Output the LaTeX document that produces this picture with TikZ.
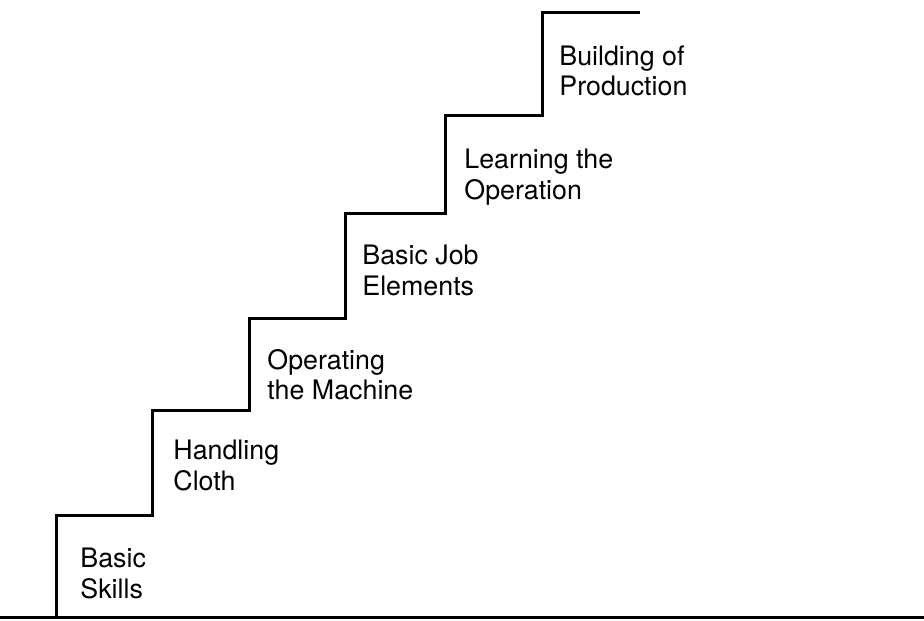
\documentclass[tikz,border=0pt]{standalone}
\usepackage{fontspec}
\setmainfont{TeX Gyre Heros}
\usetikzlibrary{positioning}

\begin{document}
\begin{tikzpicture}[
    x=0.5pt, y=0.5pt,
    stair/.style={line width=1.5pt, line join=miter},
    steplabel/.style={align=left, inner sep=0pt, font=\fontsize{13.4}{15.2}\selectfont}
]

\useasboundingbox (0,0) rectangle (924,620);

% Ground
\coordinate (g0) at (0,3);
\coordinate (g1) at (924,3);
\coordinate (s0) at (56,3);

% Step corners
\coordinate (c1) at (56,104);
\coordinate (c2) at (152,209);
\coordinate (c3) at (249,301);
\coordinate (c4) at (345,406);
\coordinate (c5) at (445,504);
\coordinate (c6) at (542,607);
\coordinate (top) at (640,607);

% Staircase
\draw[stair] (g0) -- (g1);
\draw[stair] (s0) -- (c1) -| (c2) -| (c3) -| (c4) -| (c5) -| (c6) -- (top);

% Labels
\node[steplabel, below right=16pt and 12pt of c1] (skills) {Basic\\Skills};
\node[steplabel, below right=14.5pt and 10.5pt of c2] (cloth) {Handling\\Cloth};
\node[steplabel, below right=15pt and 9pt of c3] (machine) {Operating\\the Machine};
\node[steplabel, below right=15.5pt and 8.5pt of c4] (elements) {Basic Job\\Elements};
\node[steplabel, below right=16.5pt and 9.5pt of c5] (operation) {Learning the\\Operation};
\node[steplabel, below right=16pt and 8.5pt of c6] (production) {Building of\\Production};

\end{tikzpicture}
\end{document}
